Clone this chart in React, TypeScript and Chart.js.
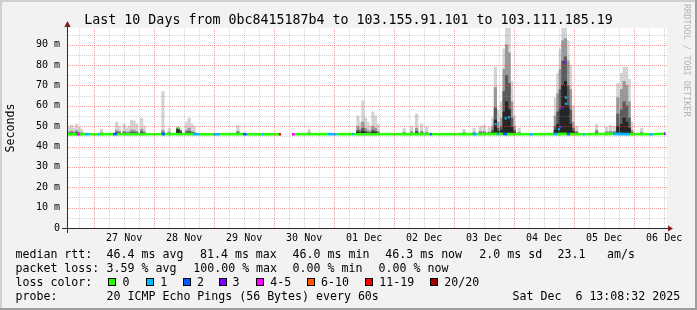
import { useEffect, useRef } from "react";
import { Chart, registerables } from "chart.js";

Chart.register(...registerables);

const MONO = "'DejaVu Sans Mono', 'Liberation Mono', monospace";

// ---- time axis: hours after 26 Nov 2025 00:00 ----
const viewStartHour = 13.142; // Wed Nov 26 13:08:32
const viewEndHour = 253.142; // Sat Dec 6 13:08:32
const dayLabelHours = [36, 60, 84, 108, 132, 156, 180, 204, 228, 252];
const dayLabels = ["27 Nov", "28 Nov", "29 Nov", "30 Nov", "01 Dec", "02 Dec", "03 Dec", "04 Dec", "05 Dec", "06 Dec"];
const yTickValues = [0, 10, 20, 30, 40, 50, 60, 70, 80, 90];
const yMax = 98.2;

// ---- median rtt (ms) and packet loss (pings lost of 20) ----
const medianHours = [13.15, 17.1, 18.3, 20.3, 22.3, 25.5, 26.3, 31.5, 33.1, 51.1,
  52.3, 63.5, 66.3, 71.5, 74.3, 83.5, 85.1, 91.1, 91.9, 97.9,
  98.7, 101.0, 103.1, 104.3, 117.5, 121.1, 127.1, 127.9, 158.3, 159.1,
  175.5, 177.1, 185.1, 185.9, 187.5, 189.1, 198.3, 199.5, 207.5, 209.1,
  213.1, 214.3, 219.5, 220.3, 231.5, 238.3, 246.3, 247.5, 251.9, 252.6];
const medianMs = [46.0, 46.0, 46.0, 46.1, 46.0, 46.0, 46.0, 46.1, 46.0, 46.0,
  46.1, 46.1, 46.0, 46.0, 46.0, 46.1, 46.0, 46.0, 46.0, 46.0,
  46.0, null, 46.0, 46.0, 46.1, 46.0, 46.1, 46.0, 46.1, 46.0,
  46.1, 46.0, 46.2, 46.1, 46.2, 46.1, 46.0, 46.0, 46.1, 46.1,
  46.2, 46.1, 46.0, 46.0, 46.2, 46.1, 46.0, 46.0, 46.3, 46.3];
const medianLoss = [0, 4, 0, 1, 0, 1, 0, 2, 0, 2,
  0, 1, 0, 1, 0, 2, 0, 1, 0, 11,
  0, 0, 4, 0, 1, 0, 1, 0, 2, 0,
  1, 0, 1, 0, 2, 0, 1, 0, 1, 0,
  2, 0, 1, 0, 1, 0, 1, 0, 3, 3];

// isolated median samples during the latency bursts
const burstHours = [57.7, 184.6, 188.6, 189.9, 209.9, 210.5, 211.5, 211.9, 212.7, 212.7];
const burstMs = [49.0, 51.0, 53.8, 54.3, 48.5, 49.5, 59.0, 81.4, 64.0, 61.0];
const burstLoss = [0, 1, 1, 1, 1, 2, 3, 3, 1, 1];

// ---- smoke (spread of the 20 pings), hourly columns ----
const smokeFloor = 45.8;
const smokeHours = [14, 15, 16, 17, 18, 19, 27, 33, 34, 36,
  37, 38, 39, 40, 41, 43, 44, 51.5, 54, 57.5,
  58.5, 61, 62, 63, 64, 81.5, 110, 129.5, 130.5, 131.5,
  132.5, 133.5, 134.5, 135.5, 136.5, 137.5, 148, 151, 153, 155,
  157, 172, 176, 178.5, 180, 182, 183.5, 184.5, 185.5, 187,
  188, 189, 190, 191, 192, 194, 208.5, 209.5, 210.5, 211.5,
  212.5, 213.5, 214.5, 215.5, 217, 225, 229, 230.5, 232, 233.5,
  235, 236, 237, 238, 239, 243];
const smokeMax = [49.5, 50.5, 49, 51, 49.5, 48.5, 48.5, 52, 50, 51,
  49, 50, 53, 52.5, 51, 54, 50, 67, 49, 49.5,
  48.5, 52, 54, 51, 50, 50.5, 48.5, 55, 52, 62.5,
  54, 52, 50, 57, 55, 51, 49, 50, 56, 51,
  49.5, 48.5, 49, 50, 50.5, 49.5, 54, 79, 58, 62,
  88, 98.5, 98.5, 72, 55, 49, 64, 76, 88, 98.5,
  98.5, 92, 80, 60, 50, 51, 49.5, 50.5, 50, 71,
  76, 79, 79, 73, 52, 49];
const smokeHigh = [47.2, 47.6, 47, 47.8, 47, 46.8, 46.8, 48, 47.5, 47.5,
  47, 47.2, 48.2, 48, 47.5, 48.5, 47.3, 48, 47, 49.2,
  48, 48, 49, 47.5, 47, 47.5, 46.8, 50, 48.5, 52,
  49, 48, 47.5, 50, 49, 47.5, 47, 47.3, 49, 47.5,
  47, 46.8, 47, 47.5, 47.5, 47.2, 50, 69, 52, 54,
  78, 90, 86, 62, 50, 47, 55, 66, 78, 92,
  93, 82, 68, 52, 47.5, 48, 47.3, 47.5, 47.5, 64,
  68, 72, 70, 62, 48, 47];
const smokeMid = [46.6, 46.8, 46.5, 46.9, 46.5, 46.4, 46.4, 47, 46.8, 46.8,
  46.5, 46.6, 47, 47, 46.8, 47.2, 46.6, 46.8, 46.5, 48.8,
  47.5, 47, 47.5, 46.8, 46.5, 46.8, 46.4, 48, 47.2, 49,
  47.5, 47, 46.8, 48, 47.5, 46.8, 46.5, 46.6, 47.5, 46.8,
  46.5, 46.4, 46.5, 46.8, 46.8, 46.6, 48, 59, 49, 50,
  67, 75, 71, 54, 48, 46.5, 50, 57, 68, 82,
  84, 70, 58, 49, 46.8, 47, 46.6, 46.8, 46.8, 56,
  58, 62, 60, 54, 47, 46.5];
const smokeLow = [46.3, 46.3, 46.3, 46.4, 46.3, 46.2, 46.2, 46.5, 46.3, 46.3,
  46.3, 46.3, 46.5, 46.5, 46.3, 46.5, 46.3, 46.3, 46.3, 48.5,
  47, 46.5, 46.6, 46.3, 46.3, 46.3, 46.2, 47, 46.6, 47.5,
  46.8, 46.5, 46.3, 47, 46.8, 46.3, 46.3, 46.3, 46.8, 46.3,
  46.3, 46.2, 46.3, 46.3, 46.3, 46.3, 47, 53, 47.5, 48,
  57, 62, 58, 49.5, 47, 46.3, 48, 51, 58, 70,
  72, 60, 51, 47.5, 46.3, 46.5, 46.3, 46.3, 46.3, 50,
  51, 54, 52, 49, 46.5, 46.3];

// ---- legend texts ----
const lossLegendLabels = ["0", "1", "2", "3", "4-5", "6-10", "11-19", "20/20"];
const lossLegendColors = ["#26ff00", "#00b8ff", "#0059ff", "#7e00ff", "#ff00ff", "#ff5500", "#ff0000", "#a10000"];
const rttStats = ["46.4 ms avg", "81.4 ms max", "46.0 ms min", "46.3 ms now", "2.0 ms sd", "23.1", "am/s"];
const lossStats = ["3.59 % avg", "100.00 % max", "0.00 % min", "0.00 % now"];
const titleText = "Last 10 Days from 0bc8415187b4 to 103.155.91.101 to 103.111.185.19";
const probeText = "20 ICMP Echo Pings (56 Bytes) every 60s";
const stampText = "Sat Dec  6 13:08:32 2025";

function lossBucket(n: number): number {
  if (n <= 3) return n;
  if (n <= 5) return 4;
  if (n <= 10) return 5;
  if (n <= 19) return 6;
  return 7;
}
const lossColor = (n: number) => lossLegendColors[lossBucket(n)];

const rrdPlugin = {
  id: "rrdDecor",
  beforeDraw(chart: any) {
    const { ctx, width, height, chartArea: a } = chart;
    ctx.save();
    ctx.fillStyle = "#f2f2f2";
    ctx.fillRect(0, 0, width, height);
    ctx.fillStyle = "#cfcfcf";
    ctx.fillRect(0, 0, width, 2);
    ctx.fillRect(0, 0, 2, height);
    ctx.fillStyle = "#9e9e9e";
    ctx.fillRect(0, height - 2, width, 2);
    ctx.fillRect(width - 2, 0, 2, height);
    ctx.fillStyle = "#ffffff";
    ctx.fillRect(a.left, a.top, a.right - a.left, a.bottom - a.top);
    ctx.restore();
  },
  afterDatasetsDraw(chart: any) {
    const { ctx, chartArea: a } = chart;
    const xs = chart.scales.x;
    const ys = chart.scales.y;
    ctx.save();
    ctx.beginPath();
    ctx.rect(a.left, a.top, a.right - a.left, a.bottom - a.top);
    ctx.clip();
    ctx.lineWidth = 1;
    ctx.setLineDash([1, 1]);
    const minor = "rgba(143,143,143,0.42)";
    const major = "rgba(222,79,79,0.55)";
    for (const pass of [0, 1]) {
      for (let v = 5; v <= ys.max; v += 5) {
        const isMajor = v % 10 === 0;
        if ((pass === 1) !== isMajor) continue;
        const y = Math.round(ys.getPixelForValue(v)) + 0.5;
        ctx.strokeStyle = isMajor ? major : minor;
        ctx.beginPath();
        ctx.moveTo(a.left + 1, y);
        ctx.lineTo(a.right, y);
        ctx.stroke();
      }
      for (let h = Math.ceil(xs.min / 6) * 6; h <= xs.max; h += 6) {
        const isMajor = h % 24 === 0;
        if ((pass === 1) !== isMajor) continue;
        const x = Math.round(xs.getPixelForValue(h)) + 0.5;
        ctx.strokeStyle = isMajor ? major : minor;
        ctx.beginPath();
        ctx.moveTo(x, a.bottom);
        ctx.lineTo(x, a.top);
        ctx.stroke();
      }
    }
    ctx.restore();

    // axes + arrows
    ctx.save();
    ctx.setLineDash([]);
    ctx.strokeStyle = "#2a2a2a";
    ctx.lineWidth = 1;
    const ax = Math.round(a.left) + 0.5;
    const ay = Math.round(a.bottom) + 0.5;
    ctx.beginPath();
    ctx.moveTo(a.left - 5, ay);
    ctx.lineTo(a.right + 2, ay);
    ctx.moveTo(ax, a.bottom + 5);
    ctx.lineTo(ax, a.top - 3);
    ctx.stroke();
    ctx.fillStyle = "#801f1f";
    ctx.beginPath();
    ctx.moveTo(ax, a.top - 7);
    ctx.lineTo(ax + 3.2, a.top - 1);
    ctx.lineTo(ax - 3.2, a.top - 1);
    ctx.closePath();
    ctx.fill();
    ctx.beginPath();
    ctx.moveTo(a.right + 6, ay);
    ctx.lineTo(a.right + 1, ay - 3);
    ctx.lineTo(a.right + 1, ay + 3);
    ctx.closePath();
    ctx.fill();
    ctx.restore();
  },
  afterDraw(chart: any) {
    const { ctx } = chart;
    ctx.save();
    ctx.fillStyle = "#000";
    ctx.textBaseline = "alphabetic";
    ctx.font = `13.3px ${MONO}`;
    ctx.textAlign = "center";
    ctx.fillText(titleText, 348.5, 24);

    ctx.textAlign = "left";
    ctx.font = `11.6px ${MONO}`;
    const rows = [257.5, 271.5, 285.5, 299.5];
    ctx.fillText("median rtt:", 15.5, rows[0]);
    const rttX = [106.6, 200, 292.6, 385.3, 479.3, 557.6, 607];
    rttStats.forEach((t, i) => ctx.fillText(t, rttX[i], rows[0]));
    ctx.fillText("packet loss:", 15.5, rows[1]);
    const lossX = [106.6, 193.3, 292.6, 378.6];
    lossStats.forEach((t, i) => ctx.fillText(t, lossX[i], rows[1]));
    ctx.fillText("loss color:", 15.5, rows[2]);
    const boxX = [108, 146, 183, 219, 256, 307, 365, 430];
    const labX = [122.6, 160.3, 197, 232.6, 270.3, 321, 379.3, 444.3];
    lossLegendLabels.forEach((t, i) => {
      ctx.fillStyle = lossLegendColors[i];
      ctx.fillRect(boxX[i], 278, 8, 8);
      ctx.strokeStyle = "#000";
      ctx.lineWidth = 1;
      ctx.strokeRect(boxX[i] + 0.5, 278.5, 7, 7);
      ctx.fillStyle = "#000";
      ctx.fillText(t, labX[i], rows[2]);
    });
    ctx.fillText("probe:", 15.5, rows[3]);
    ctx.fillText(probeText, 106.6, rows[3]);
    ctx.fillText(stampText, 512.6, rows[3]);

    // vertical watermark
    ctx.translate(684, 4);
    ctx.rotate(Math.PI / 2);
    ctx.font = `8.5px ${MONO}`;
    ctx.fillStyle = "#b4b4b4";
    ctx.fillText("RRDTOOL / TOBI OETIKER", 0, 0);
    ctx.restore();
  },
};

export default function App() {
  const ref = useRef<HTMLCanvasElement | null>(null);

  useEffect(() => {
    const canvas = ref.current;
    if (!canvas) return;

    const smokeLayer = (values: number[], color: string, order: number) => ({
      type: "bar" as const,
      data: smokeHours.map((h, i) => ({ x: h, y: [smokeFloor, values[i]] })),
      backgroundColor: color,
      borderWidth: 0,
      barThickness: 2.6,
      grouped: false,
      order,
    });

    const chart = new Chart(canvas, {
      type: "bar",
      data: {
        datasets: [
          {
            type: "line",
            data: burstHours.map((h, i) => ({ x: h, y: burstMs[i] })),
            showLine: false,
            pointStyle: "rect",
            pointRadius: 1.5,
            pointBorderWidth: 0,
            pointBackgroundColor: burstLoss.map(lossColor),
            order: 0,
          } as any,
          {
            type: "line",
            data: medianHours.map((h, i) => ({ x: h, y: medianMs[i] })),
            borderColor: lossLegendColors[0],
            borderWidth: 2.6,
            borderCapStyle: "butt",
            pointRadius: 0,
            spanGaps: false,
            tension: 0,
            segment: {
              borderColor: (c: any) => lossColor(medianLoss[c.p0DataIndex]),
            },
            order: 1,
          } as any,
          smokeLayer(smokeLow, "#262626", 2) as any,
          smokeLayer(smokeMid, "#5c5c5c", 3) as any,
          smokeLayer(smokeHigh, "#999999", 4) as any,
          smokeLayer(smokeMax, "#d4d4d4", 5) as any,
        ],
      },
      options: {
        responsive: false,
        animation: false,
        devicePixelRatio: 1,
        events: [],
        layout: { padding: { left: 0, right: 30, top: 28, bottom: 0 } },
        plugins: { legend: { display: false }, tooltip: { enabled: false }, title: { display: false } },
        scales: {
          x: {
            type: "linear",
            offset: false,
            min: viewStartHour,
            max: viewEndHour,
            grid: { display: false, drawTicks: false, offset: false },
            border: { display: false },
            afterBuildTicks: (s: any) => {
              s.ticks = dayLabelHours.map((v) => ({ value: v }));
            },
            afterFit: (s: any) => {
              s.height = 82;
            },
            ticks: {
              autoSkip: false,
              maxRotation: 0,
              padding: 4,
              color: "#000",
              font: { family: MONO, size: 10 },
              callback: (_v: any, i: number) => dayLabels[i] ?? "",
            },
          },
          y: {
            type: "linear",
            min: 0,
            max: yMax,
            grid: { display: false, drawTicks: false },
            border: { display: false },
            afterBuildTicks: (s: any) => {
              s.ticks = yTickValues.map((v) => ({ value: v }));
            },
            afterFit: (s: any) => {
              s.width = 67;
            },
            title: {
              display: true,
              text: "Seconds",
              color: "#000",
              font: { family: MONO, size: 11.6 },
              padding: { top: 4, bottom: 0 },
            },
            ticks: {
              padding: 7,
              color: "#000",
              font: { family: MONO, size: 10 },
              callback: (v: any) => (v === 0 ? "0" : `${v} m`),
            },
          },
        },
      },
      plugins: [rrdPlugin],
    } as any);

    return () => chart.destroy();
  }, []);

  return (
    <div style={{ position: "fixed", left: 0, top: 0, width: 697, height: 310 }}>
      <canvas ref={ref} width={697} height={310} style={{ display: "block" }} />
    </div>
  );
}
